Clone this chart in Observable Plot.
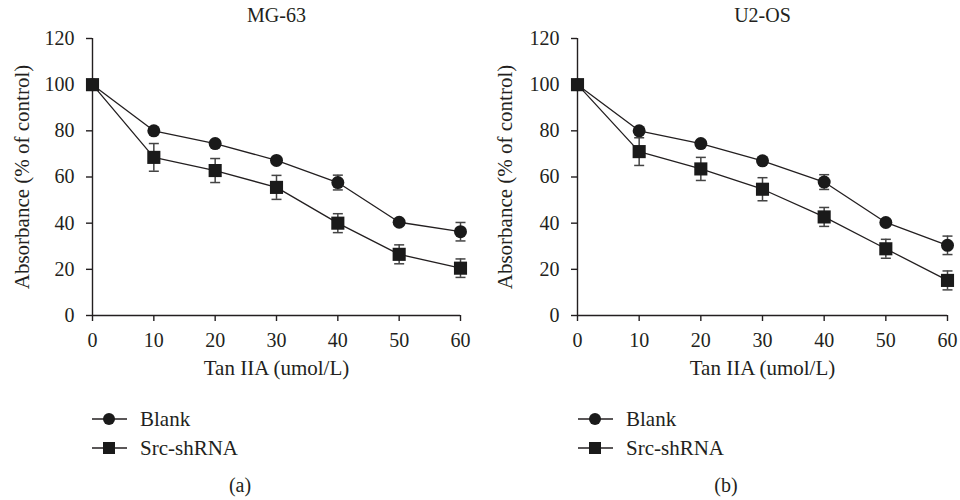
<!DOCTYPE html>
<html>
<head>
<meta charset="utf-8">
<script src="https://cdn.jsdelivr.net/npm/d3@7"></script>
<script src="https://cdn.jsdelivr.net/npm/@observablehq/plot@0.6"></script>
<style>
  body { margin: 0; background: #fff; font-family: "Liberation Serif", "DejaVu Serif", serif; color: #231f20; }
  #wrap { position: relative; width: 960px; height: 500px; overflow: hidden; }
  .panel { position: absolute; top: 0; }
  .panel svg, .panel svg text { font-family: "Liberation Serif", serif !important; }
  .legend { position: absolute; font-size: 21px; }
  .legend .row { position: absolute; left: 0; height: 24px; white-space: nowrap; }
  .legend svg { position: absolute; left: 0; top: 0; }
  .legend span { position: absolute; top: 0; line-height: 24px; }
  .caption { position: absolute; font-size: 20px; transform: translate(-50%, -50%); }
</style>
</head>
<body>
<div id="wrap"></div>
<script>
// ---- data ----
const doses = [0, 10, 20, 30, 40, 50, 60];
const yTicks = [0, 20, 40, 60, 80, 100, 120];
const seriesNames = ["Blank", "Src-shRNA"];

const mg63Blank    = [100, 80.0, 74.5, 67.2, 57.6, 40.4, 36.3];
const mg63BlankErr = [0, 1.0, 1.0, 1.0, 3.2, 1.0, 4.0];
const mg63Src      = [100, 68.5, 62.8, 55.5, 40.0, 26.5, 20.5];
const mg63SrcErr   = [0, 6.0, 5.2, 5.2, 4.1, 4.1, 4.0];

const u2osBlank    = [100, 80.0, 74.5, 67.0, 57.8, 40.3, 30.4];
const u2osBlankErr = [0, 1.0, 1.0, 1.0, 3.2, 1.0, 4.0];
const u2osSrc      = [100, 71.0, 63.5, 54.7, 42.7, 28.9, 15.2];
const u2osSrcErr   = [0, 6.0, 5.0, 5.0, 4.1, 4.1, 4.1];

const panelTitles = ["MG-63", "U2-OS"];
const captions = ["(a)", "(b)"];
const xLabel = "Tan IIA (umol/L)";
const yLabel = "Absorbance (% of control)";

// ---- helpers ----
const INK = "#231f20";
const FONT = "Liberation Serif";

function table(blank, blankErr, src, srcErr) {
  const rows = [];
  doses.forEach((d, i) => rows.push({dose: d, value: blank[i], err: blankErr[i], group: seriesNames[0]}));
  doses.forEach((d, i) => rows.push({dose: d, value: src[i], err: srcErr[i], group: seriesNames[1]}));
  return rows;
}

const capSymbol = {
  draw(context) { context.moveTo(-5, 0); context.lineTo(5, 0); }
};

function panel(rows, title, marginLeft, marginRight, yLabelDx) {
  const errRows = rows.filter(r => r.err > 0);
  return Plot.plot({
    width: 480,
    height: 370,
    marginTop: 38,
    marginBottom: 55,
    marginLeft,
    marginRight,
    style: {fontFamily: FONT, fontSize: "20px", color: INK, background: "transparent", overflow: "visible"},
    x: {domain: [0, 60]},
    y: {domain: [0, 120]},
    marks: [
      Plot.axisX({ticks: doses, tickSize: 6, tickPadding: 11, label: null, strokeWidth: 1.4, fontSize: 20, fontFamily: FONT, fill: INK}),
      Plot.axisY({ticks: yTicks, tickSize: 6, tickPadding: 12, label: null, strokeWidth: 1.4, fontSize: 20, fontFamily: FONT, fill: INK}),
      Plot.ruleY([0], {stroke: INK, strokeWidth: 1.4}),
      Plot.ruleX([0], {stroke: INK, strokeWidth: 1.4}),
      Plot.ruleX(errRows, {x: "dose", y1: d => d.value - d.err, y2: d => d.value + d.err, stroke: "#444", strokeWidth: 1.5}),
      Plot.dot(errRows, {x: "dose", y: d => d.value + d.err, symbol: capSymbol, r: 5, fill: "none", stroke: "#444", strokeWidth: 1.5}),
      Plot.dot(errRows, {x: "dose", y: d => d.value - d.err, symbol: capSymbol, r: 5, fill: "none", stroke: "#444", strokeWidth: 1.5}),
      Plot.line(rows, {x: "dose", y: "value", z: "group", stroke: INK, strokeWidth: 1.3}),
      Plot.dot(rows.filter(r => r.group === seriesNames[0]), {x: "dose", y: "value", r: 6.5, symbol: "circle", fill: "#1a1a1a", stroke: "none"}),
      Plot.dot(rows.filter(r => r.group === seriesNames[1]), {x: "dose", y: "value", r: 7.4, symbol: "square", fill: "#1a1a1a", stroke: "none"}),
      Plot.text([title], {text: d => d, frameAnchor: "top", lineAnchor: "middle", dy: -23, fontSize: 20, fontFamily: FONT, fill: INK}),
      Plot.text([xLabel], {text: d => d, frameAnchor: "bottom", lineAnchor: "middle", dy: 53, fontSize: 21, fontFamily: FONT, fill: INK}),
      Plot.text([yLabel], {text: d => d, frameAnchor: "left", textAnchor: "middle", lineAnchor: "middle", dx: yLabelDx, rotate: -90, fontSize: 21, fontFamily: FONT, fill: INK})
    ]
  });
}

function legendRow(kind) {
  const ns = "http://www.w3.org/2000/svg";
  const svg = document.createElementNS(ns, "svg");
  svg.setAttribute("width", 40); svg.setAttribute("height", 24);
  const line = document.createElementNS(ns, "line");
  line.setAttribute("x1", 0); line.setAttribute("x2", 35);
  line.setAttribute("y1", 12); line.setAttribute("y2", 12);
  line.setAttribute("stroke", INK); line.setAttribute("stroke-width", 1.4);
  svg.appendChild(line);
  let m;
  if (kind === seriesNames[0]) {
    m = document.createElementNS(ns, "circle");
    m.setAttribute("cx", 17); m.setAttribute("cy", 12); m.setAttribute("r", 6);
  } else {
    m = document.createElementNS(ns, "rect");
    m.setAttribute("x", 11); m.setAttribute("y", 6); m.setAttribute("width", 12); m.setAttribute("height", 12);
  }
  m.setAttribute("fill", "#1a1a1a");
  svg.appendChild(m);
  return svg;
}

const wrap = document.getElementById("wrap");
const datasets = [
  table(mg63Blank, mg63BlankErr, mg63Src, mg63SrcErr),
  table(u2osBlank, u2osBlankErr, u2osSrc, u2osSrcErr)
];
const layout = [
  {left: 0, ml: 92, mr: 20, ylDx: -70, legendX: 92, capX: 240},
  {left: 480, ml: 97, mr: 13, ylDx: -72, legendX: 578, capX: 726}
];

datasets.forEach((rows, i) => {
  const L = layout[i];
  const div = document.createElement("div");
  div.className = "panel";
  div.style.left = L.left + "px";
  div.appendChild(panel(rows, panelTitles[i], L.ml, L.mr, L.ylDx));
  wrap.appendChild(div);

  const leg = document.createElement("div");
  leg.className = "legend";
  leg.style.left = L.legendX + "px";
  leg.style.top = "407px";
  seriesNames.forEach((name, j) => {
    const row = document.createElement("div");
    row.className = "row";
    row.style.top = (j * 29) + "px";
    row.appendChild(legendRow(name));
    const sp = document.createElement("span");
    sp.style.left = "48px";
    sp.textContent = name;
    row.appendChild(sp);
    leg.appendChild(row);
  });
  wrap.appendChild(leg);

  const cap = document.createElement("div");
  cap.className = "caption";
  cap.style.left = L.capX + "px";
  cap.style.top = "485px";
  cap.textContent = captions[i];
  wrap.appendChild(cap);
});
</script>
</body>
</html>
